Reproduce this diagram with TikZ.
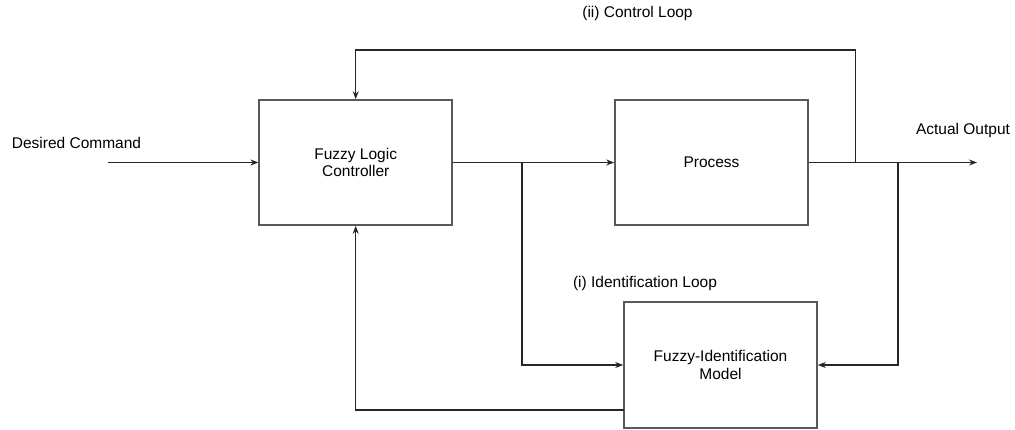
\documentclass[tikz,border=0pt]{standalone}
\usepackage{fontspec}
\setmainfont{Liberation Sans}
\usetikzlibrary{arrows.meta,calc}
\begin{document}
\begin{tikzpicture}[x=1pt,y=-1pt,
  blk/.style={draw=black!65,line width=1.6pt,minimum width=193pt,inner sep=0pt,align=center,font=\fontsize{15.5}{17.5}\selectfont},
  lbl/.style={font=\fontsize{15.5}{17.5}\selectfont,inner sep=0pt},
  conn/.style={draw=black!85,line width=1.1pt},
  arr/.style={conn,-{Stealth[length=8pt,width=6pt]}}]
\useasboundingbox (0,0) rectangle (1015,430);
\node[blk,minimum height=125pt] (flc) at (355.7,162.5) {Fuzzy Logic\\Controller};
\node[blk,minimum height=125pt] (proc) at (711.5,162.5) {Process};
\node[blk,minimum height=126pt] (fim) at (720.5,365) {Fuzzy-Identification\\Model};
\coordinate (dc) at (108,162.5);
\coordinate (out) at (977,162.5);
\coordinate (b1) at (522,162.5);
\coordinate (b2) at (898,162.5);
\coordinate (cl) at (855.7,162.5);
\coordinate (fb) at (624,410);
\node[lbl] (ldc) at (76.5,142.5) {Desired Command};
\node[lbl] (lout) at (963,130.5) {Actual Output};
\node[lbl] (lcl) at (637.5,13.5) {(ii) Control Loop};
\node[lbl] (lil) at (645,283.5) {(i) Identification Loop};
\draw[arr] (dc) -- (flc.west);
\draw[arr] (flc.east) -- (proc.west);
\draw[arr] (proc.east) -- (out);
\draw[arr] (cl) -- ++(0,-112.5) -| (flc.north);
\draw[arr] (b1) |- (fim.west);
\draw[arr] (b2) |- (fim.east);
\draw[arr] (fb) -| (flc.south);
\end{tikzpicture}
\end{document}
